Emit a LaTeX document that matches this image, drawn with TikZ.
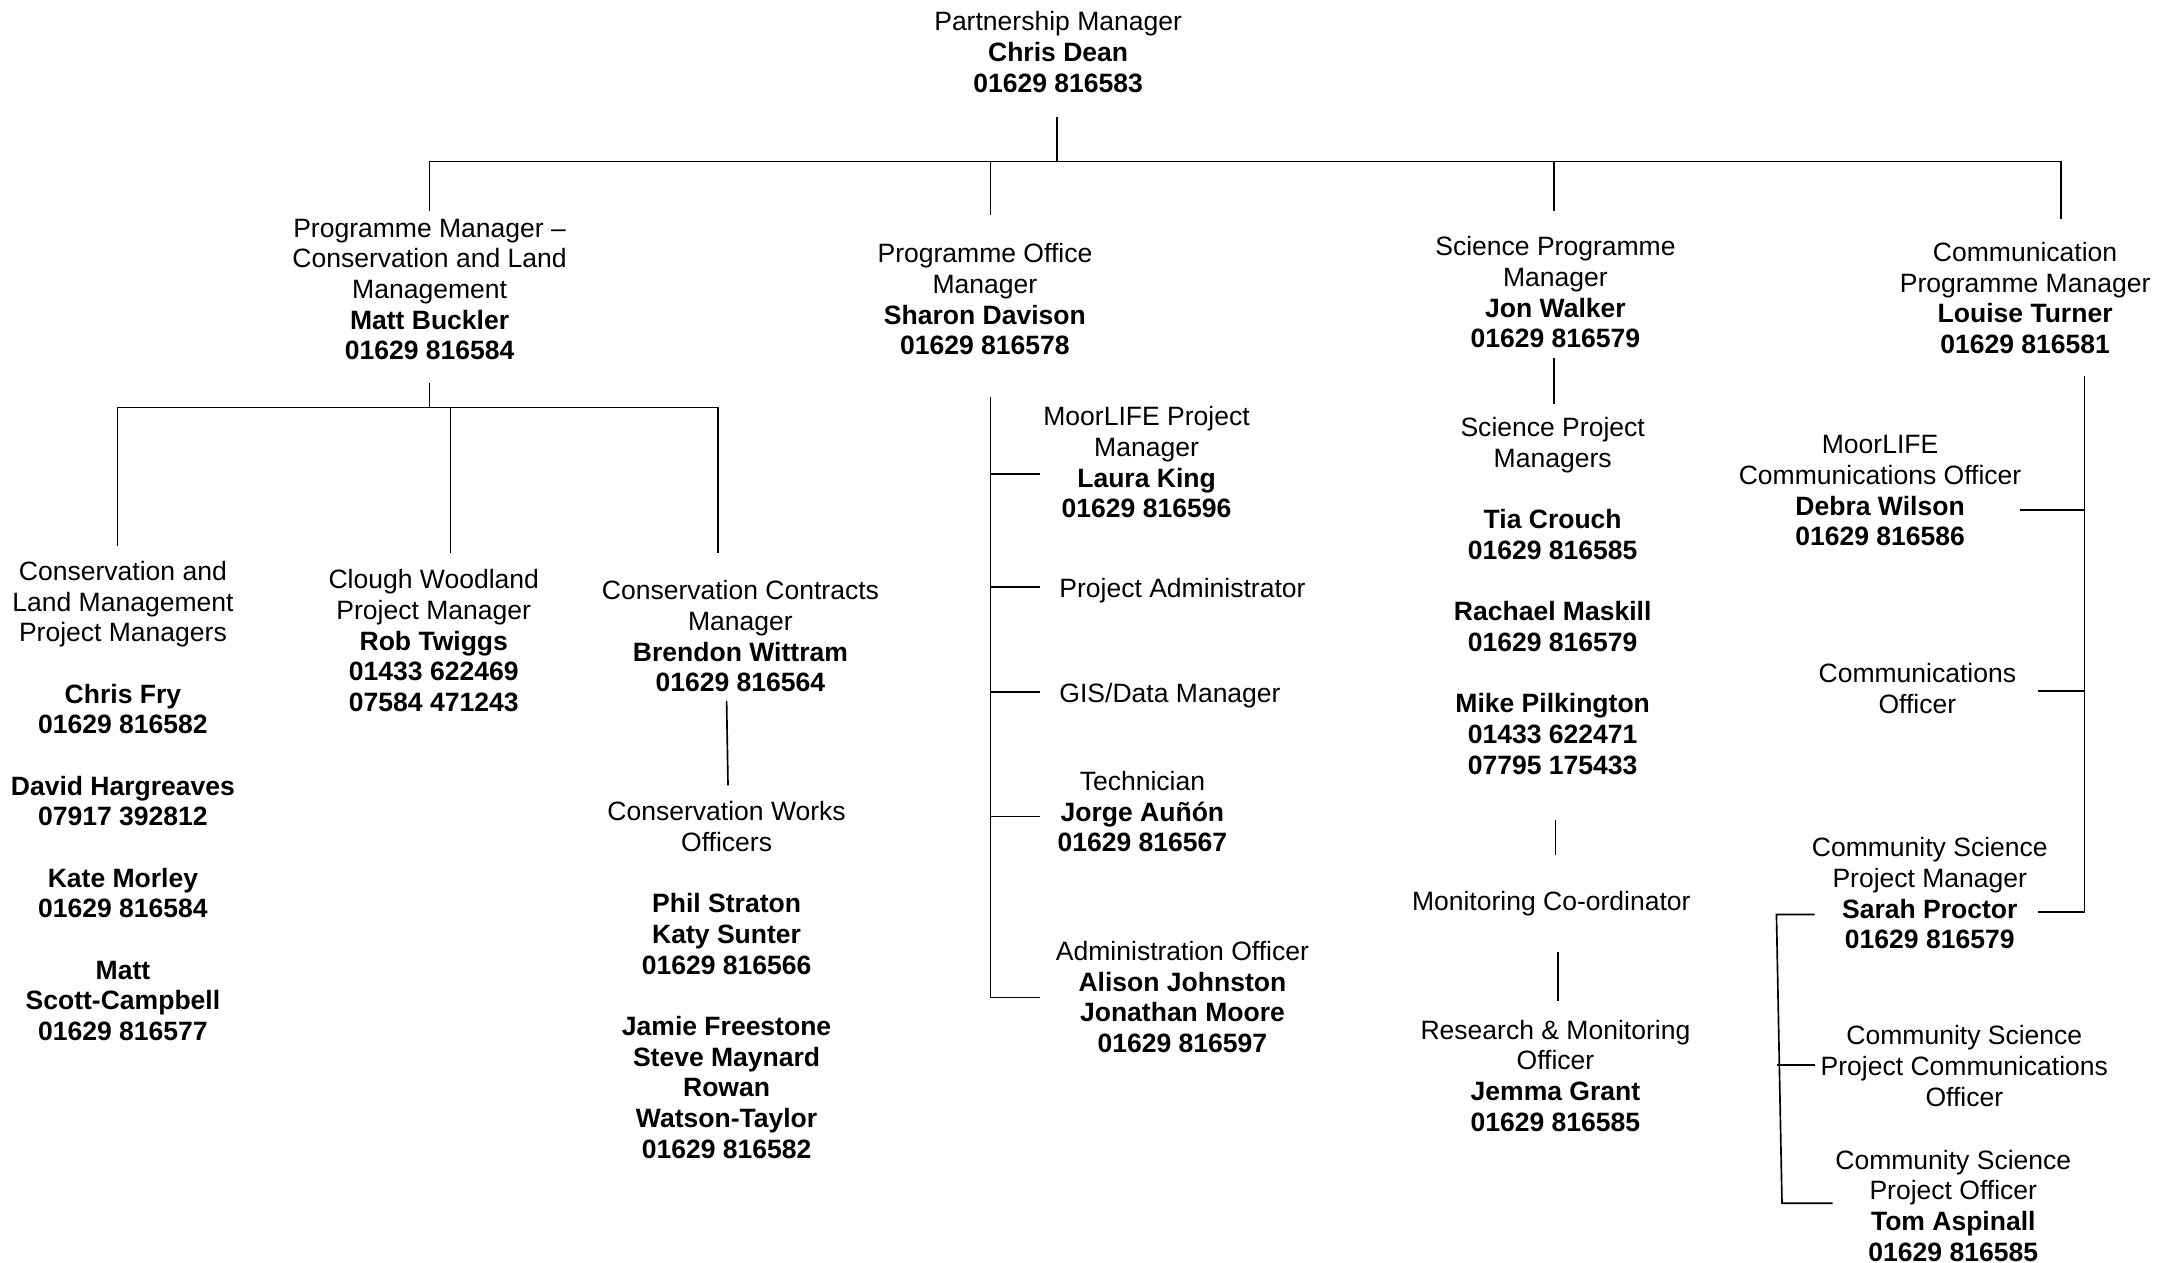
\documentclass[tikz,border=0pt]{standalone}
\usepackage{fontspec}
\setmainfont{Liberation Sans}
\newcommand{\fsz}{\fontsize{9.6pt}{11.1pt}\selectfont}
\begin{document}
\begin{tikzpicture}[x=0.5pt,y=-0.5pt]
\tikzset{
  lbl/.style={align=center, inner sep=0pt, anchor=north, font=\fsz},
  ln/.style={line width=0.6pt, line cap=rect}
}
\useasboundingbox (0,0) rectangle (1568,914);
% ---------- nodes ----------
\node[lbl] (pm) at (766,8) {Partnership Manager\\\textbf{Chris Dean}\\\textbf{01629 816583}};
\node[lbl] (cl) at (311,158) {Programme Manager \textendash\\Conservation and Land\\Management\\\textbf{Matt Buckler}\\\textbf{01629 816584}};
\node[lbl] (po) at (713,176) {Programme Office\\Manager\\\textbf{Sharon Davison}\\\textbf{01629 816578}};
\node[lbl] (sp) at (1126,171) {Science Programme\\Manager\\\textbf{Jon Walker}\\\textbf{01629 816579}};
\node[lbl] (cp) at (1466,175) {Communication\\Programme Manager\\\textbf{Louise Turner}\\\textbf{01629 816581}};
\node[lbl] (lm) at (89,406) {Conservation and\\Land Management\\Project Managers\\[11.1pt]\textbf{Chris Fry}\\\textbf{01629 816582}\\[11.1pt]\textbf{David Hargreaves}\\\textbf{07917 392812}\\[11.1pt]\textbf{Kate Morley}\\\textbf{01629 816584}\\[11.1pt]\textbf{Matt}\\\textbf{Scott-Campbell}\\\textbf{01629 816577}};
\node[lbl] (cw) at (314,412) {Clough Woodland\\Project Manager\\\textbf{Rob Twiggs}\\\textbf{01433 622469}\\\textbf{07584 471243}};
\node[lbl] (cc) at (536,420) {Conservation Contracts\\Manager\\\textbf{Brendon Wittram}\\\textbf{01629 816564}};
\node[lbl] (wo) at (526,580) {Conservation Works\\Officers\\[11.1pt]\textbf{Phil Straton}\\\textbf{Katy Sunter}\\\textbf{01629 816566}\\[11.1pt]\textbf{Jamie Freestone}\\\textbf{Steve Maynard}\\\textbf{Rowan}\\\textbf{Watson-Taylor}\\\textbf{01629 816582}};
\node[lbl] (ml) at (830,294) {MoorLIFE Project\\Manager\\\textbf{Laura King}\\\textbf{01629 816596}};
\node[lbl] (pa) at (856,418) {Project Administrator};
\node[lbl] (gis) at (847,494) {GIS/Data Manager};
\node[lbl] (tech) at (827,558) {Technician\\\textbf{Jorge Auñón}\\\textbf{01629 816567}};
\node[lbl] (adm) at (856,681) {Administration Officer\\\textbf{Alison Johnston}\\\textbf{Jonathan Moore}\\\textbf{01629 816597}};
\node[lbl] (spm) at (1124,302) {Science Project\\Managers\\[11.1pt]\textbf{Tia Crouch}\\\textbf{01629 816585}\\[11.1pt]\textbf{Rachael Maskill}\\\textbf{01629 816579}\\[11.1pt]\textbf{Mike Pilkington}\\\textbf{01433 622471}\\\textbf{07795 175433}};
\node[lbl] (mc) at (1123,645) {Monitoring Co-ordinator};
\node[lbl] (rmo) at (1126,738) {Research \& Monitoring\\Officer\\\textbf{Jemma Grant}\\\textbf{01629 816585}};
\node[lbl] (dw) at (1361,315) {MoorLIFE\\Communications Officer\\\textbf{Debra Wilson}\\\textbf{01629 816586}};
\node[lbl] (co) at (1388,480) {Communications\\Officer};
\node[lbl] (csm) at (1397,606) {Community Science\\Project Manager\\\textbf{Sarah Proctor}\\\textbf{01629 816579}};
\node[lbl] (csc) at (1422,742) {Community Science\\Project Communications\\Officer};
\node[lbl] (cso) at (1414,832) {Community Science\\Project Officer\\\textbf{Tom Aspinall}\\\textbf{01629 816585}};
% ---------- connector coordinates ----------
\coordinate (pmS) at (765,85);
\coordinate (bus) at (765,117);
\coordinate (busL) at (311,117);
\coordinate (busPO) at (717,117);
\coordinate (busSP) at (1125,117);
\coordinate (busR) at (1492,117);
\coordinate (clN) at (311,152);
\coordinate (poN) at (717,155);
\coordinate (spN) at (1125,152);
\coordinate (cpN) at (1492,158);
\coordinate (clS) at (311,278);
\coordinate (clBus) at (311,295);
\coordinate (clBusL) at (85,295);
\coordinate (clBusM) at (326,295);
\coordinate (clBusR) at (520,295);
\coordinate (lmN) at (85,395);
\coordinate (cwN) at (326,400);
\coordinate (ccN) at (520,400);
\coordinate (ccS) at (526,508);
\coordinate (woN) at (527,568);
\coordinate (poTop) at (717,288);
\coordinate (poBot) at (717,722);
\coordinate (poB1) at (717,343); \coordinate (mlW) at (752,343);
\coordinate (poB2) at (717,425); \coordinate (paW) at (752,425);
\coordinate (poB3) at (717,501); \coordinate (gisW) at (752,501);
\coordinate (poB4) at (717,591); \coordinate (techW) at (752,591);
\coordinate (admW) at (752,722);
\coordinate (spS) at (1125,260);
\coordinate (spmN) at (1125,292);
\coordinate (spmS) at (1126,594);
\coordinate (mcN) at (1126,618);
\coordinate (mcS) at (1128,690);
\coordinate (rmoN) at (1128,724);
\coordinate (cpTop) at (1509,273);
\coordinate (cpB1) at (1509,369); \coordinate (dwE) at (1463,369);
\coordinate (cpB2) at (1509,500); \coordinate (coE) at (1476,500);
\coordinate (cpBot) at (1509,660); \coordinate (csmE) at (1476,660);
\coordinate (csmW) at (1313,662);
\coordinate (csTop) at (1286,662);
\coordinate (csMid) at (1287,771); \coordinate (cscW) at (1313,771);
\coordinate (csBot) at (1290,871); \coordinate (csoW) at (1326,871);
% ---------- connectors ----------
\draw[ln] (pmS) -- (bus);
\draw[ln] (busL) -- (busR);
\draw[ln] (busL) -- (clN);
\draw[ln] (busPO) -- (poN);
\draw[ln] (busSP) -- (spN);
\draw[ln] (busR) -- (cpN);
\draw[ln] (clS) -- (clBus);
\draw[ln] (clBusL) -- (clBusR);
\draw[ln] (clBusL) -- (lmN);
\draw[ln] (clBusM) -- (cwN);
\draw[ln] (clBusR) -- (ccN);
\draw[ln] (ccS) -- (woN);
\draw[ln] (poTop) -- (poBot) -- (admW);
\draw[ln] (poB1) -- (mlW);
\draw[ln] (poB2) -- (paW);
\draw[ln] (poB3) -- (gisW);
\draw[ln] (poB4) -- (techW);
\draw[ln] (spS) -- (spmN);
\draw[ln] (spmS) -- (mcN);
\draw[ln] (mcS) -- (rmoN);
\draw[ln] (cpTop) -- (cpBot) -- (csmE);
\draw[ln] (cpB1) -- (dwE);
\draw[ln] (cpB2) -- (coE);
\draw[ln] (csmW) -- (csTop) -- (csBot) -- (csoW);
\draw[ln] (csMid) -- (cscW);
\end{tikzpicture}
\end{document}
